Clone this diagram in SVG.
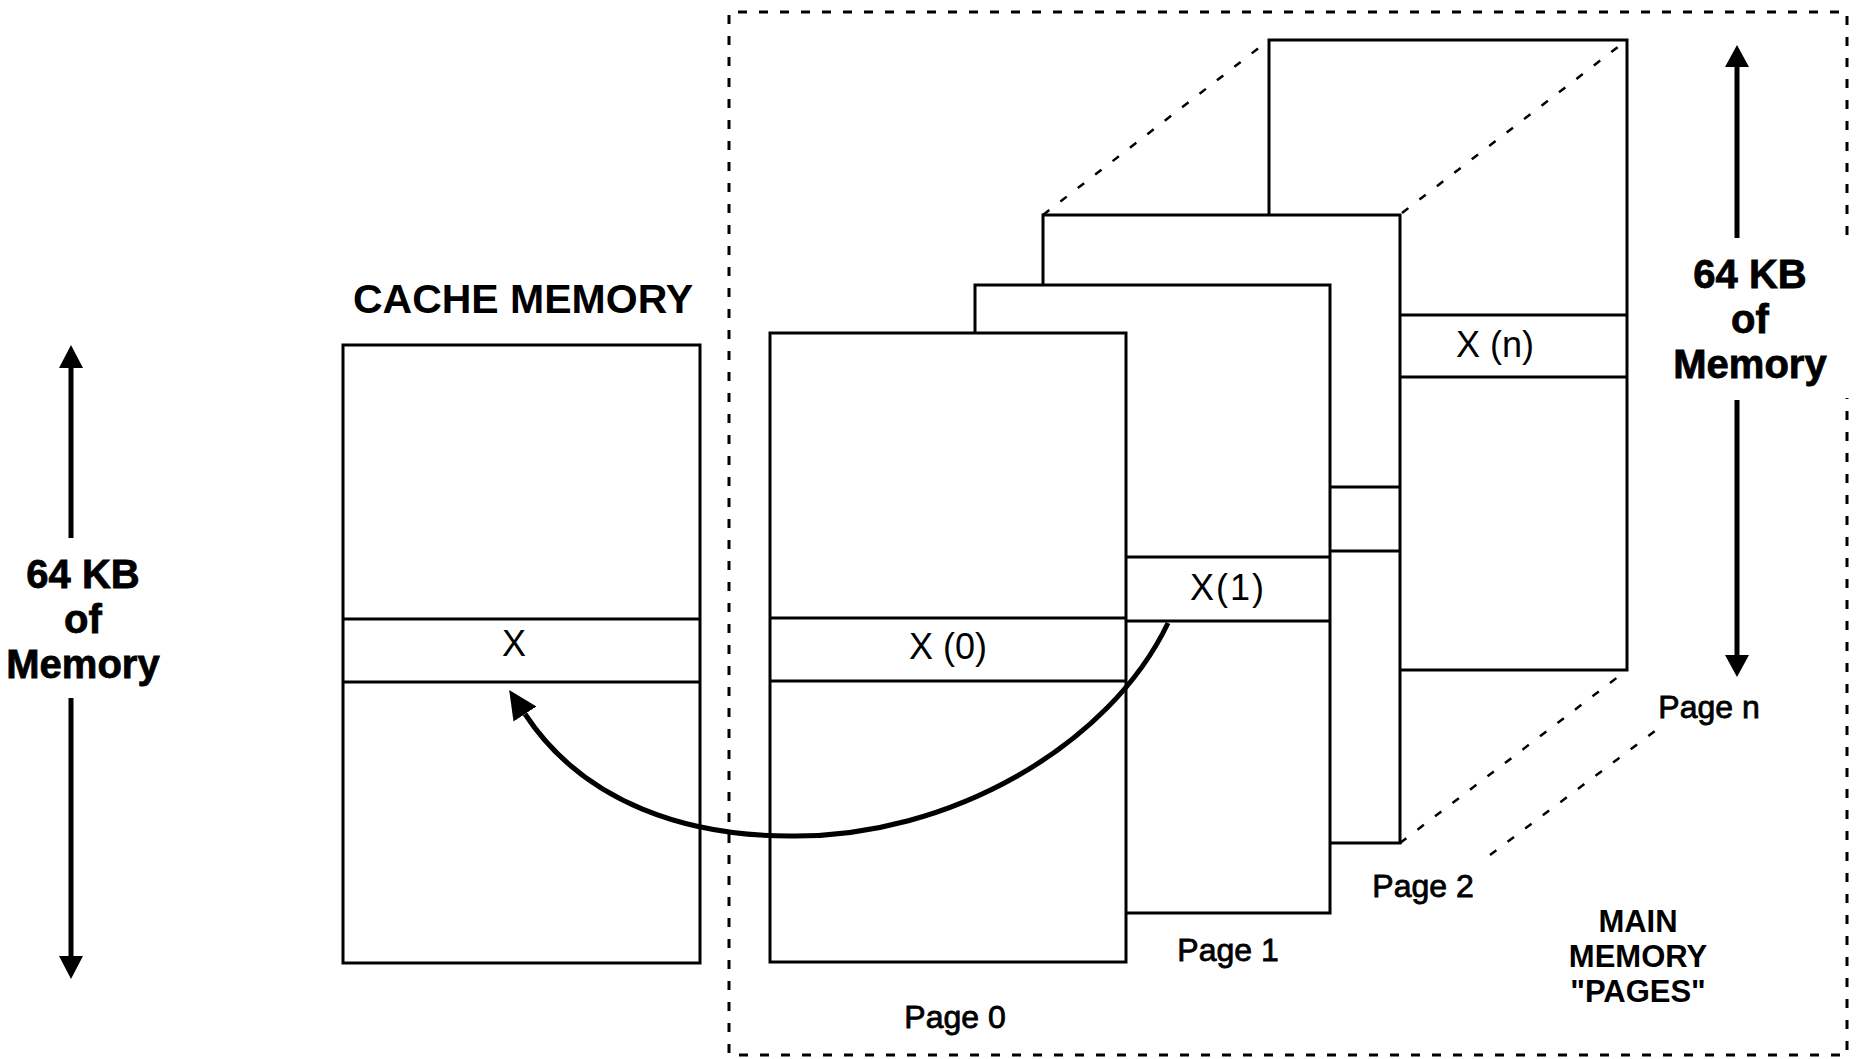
<svg xmlns="http://www.w3.org/2000/svg" width="1860" height="1059" viewBox="0 0 1860 1059">
<style>
.box{fill:none;stroke:#000;stroke-width:3;stroke-linejoin:miter}
.dash{fill:none;stroke:#000;stroke-width:3;stroke-dasharray:9 12}
.pdash{fill:none;stroke:#000;stroke-width:2.5;stroke-dasharray:8 14}
.shaft{fill:none;stroke:#000;stroke-width:5}
.head{fill:#000;stroke:none}
.big{font-family:"Liberation Sans",Arial,sans-serif;font-weight:bold;font-size:40px;text-anchor:middle;fill:#000;stroke:#000;stroke-width:0.8}
.title{font-family:"Liberation Sans",Arial,sans-serif;font-weight:bold;font-size:41px;text-anchor:middle;fill:#000}
.cell{font-family:"Liberation Sans",Arial,sans-serif;font-size:36px;text-anchor:middle;fill:#000}
.page{font-family:"Liberation Sans",Arial,sans-serif;font-size:32px;text-anchor:middle;fill:#000;stroke:#000;stroke-width:0.8}
.mm{font-family:"Liberation Sans",Arial,sans-serif;font-weight:bold;font-size:31px;text-anchor:middle;fill:#000}
</style>
<defs>
<marker id="ah" markerUnits="userSpaceOnUse" markerWidth="30" markerHeight="30" viewBox="0 -12 24 24" refX="0" refY="0" orient="auto">
<path d="M0,-11 L23,0 L0,11 z" fill="#000"/>
</marker>
</defs>
<rect width="1860" height="1059" fill="#fff"/>

<g id="main-memory-frame">
<path class="dash" d="M1847,235 V12 H729 V1055 H1847 V398"/>
</g>

<g id="left-dimension">
<path class="shaft" d="M71,365 V538 M71,698 V959"/>
<path class="head" d="M71,345 L83,368 L59,368 z M71,979 L83,956 L59,956 z"/>
<text class="big"><tspan x="83" y="588">64 KB</tspan><tspan x="83" dy="45">of</tspan><tspan x="83" dy="45">Memory</tspan></text>
</g>

<g id="cache-memory">
<text class="title" x="523" y="313">CACHE MEMORY</text>
<rect class="box" x="343" y="345" width="357" height="618"/>
<path class="box" d="M343,619 H700 M343,682 H700"/>
<text class="cell" x="514" y="656">X</text>
</g>

<g id="page-n">
<path class="box" d="M1269,215 V40 H1627 V670 H1400"/>
<path class="box" d="M1400,315 H1627 M1400,377 H1627"/>
<text class="cell" x="1495" y="357">X (n)</text>
<text class="page" x="1709" y="718">Page n</text>
</g>

<g id="page-2">
<path class="box" d="M1043,285 V215 H1400 V843 H1330"/>
<path class="box" d="M1330,487 H1400 M1330,551 H1400"/>
<text class="page" x="1423" y="897">Page 2</text>
</g>

<g id="page-1">
<path class="box" d="M975,333 V285 H1330 V913 H1126"/>
<path class="box" d="M1126,557 H1330 M1126,621 H1330"/>
<text class="cell" x="1228" y="600" letter-spacing="2">X(1)</text>
<text class="page" x="1228" y="961">Page 1</text>
</g>

<g id="page-0">
<rect class="box" x="770" y="333" width="356" height="629"/>
<path class="box" d="M770,618 H1126 M770,681 H1126"/>
<text class="cell" x="948" y="659">X (0)</text>
<text class="page" x="955" y="1028">Page 0</text>
</g>

<g id="perspective-lines">
<path class="pdash" d="M1043,215 L1269,40 M1402,213 L1627,40 M1400,843 L1627,670 M1490,855 L1663,725"/>
</g>

<g id="right-dimension">
<path class="shaft" d="M1737,63 V238 M1737,400 V657"/>
<path class="head" d="M1737,45 L1749,67 L1725,67 z M1737,677 L1749,655 L1725,655 z"/>
<text class="big"><tspan x="1750" y="288">64 KB</tspan><tspan x="1750" dy="45">of</tspan><tspan x="1750" dy="45">Memory</tspan></text>
<text class="mm"><tspan x="1638" y="932">MAIN</tspan><tspan x="1638" dy="35">MEMORY</tspan><tspan x="1638" dy="35">"PAGES"</tspan></text>
</g>

<g id="connectors">
<path d="M1168,623 C1110,745 950,838 790,836 C690,836 585,805 525,714" fill="none" stroke="#000" stroke-width="5" marker-end="url(#ah)"/>
</g>
</svg>
